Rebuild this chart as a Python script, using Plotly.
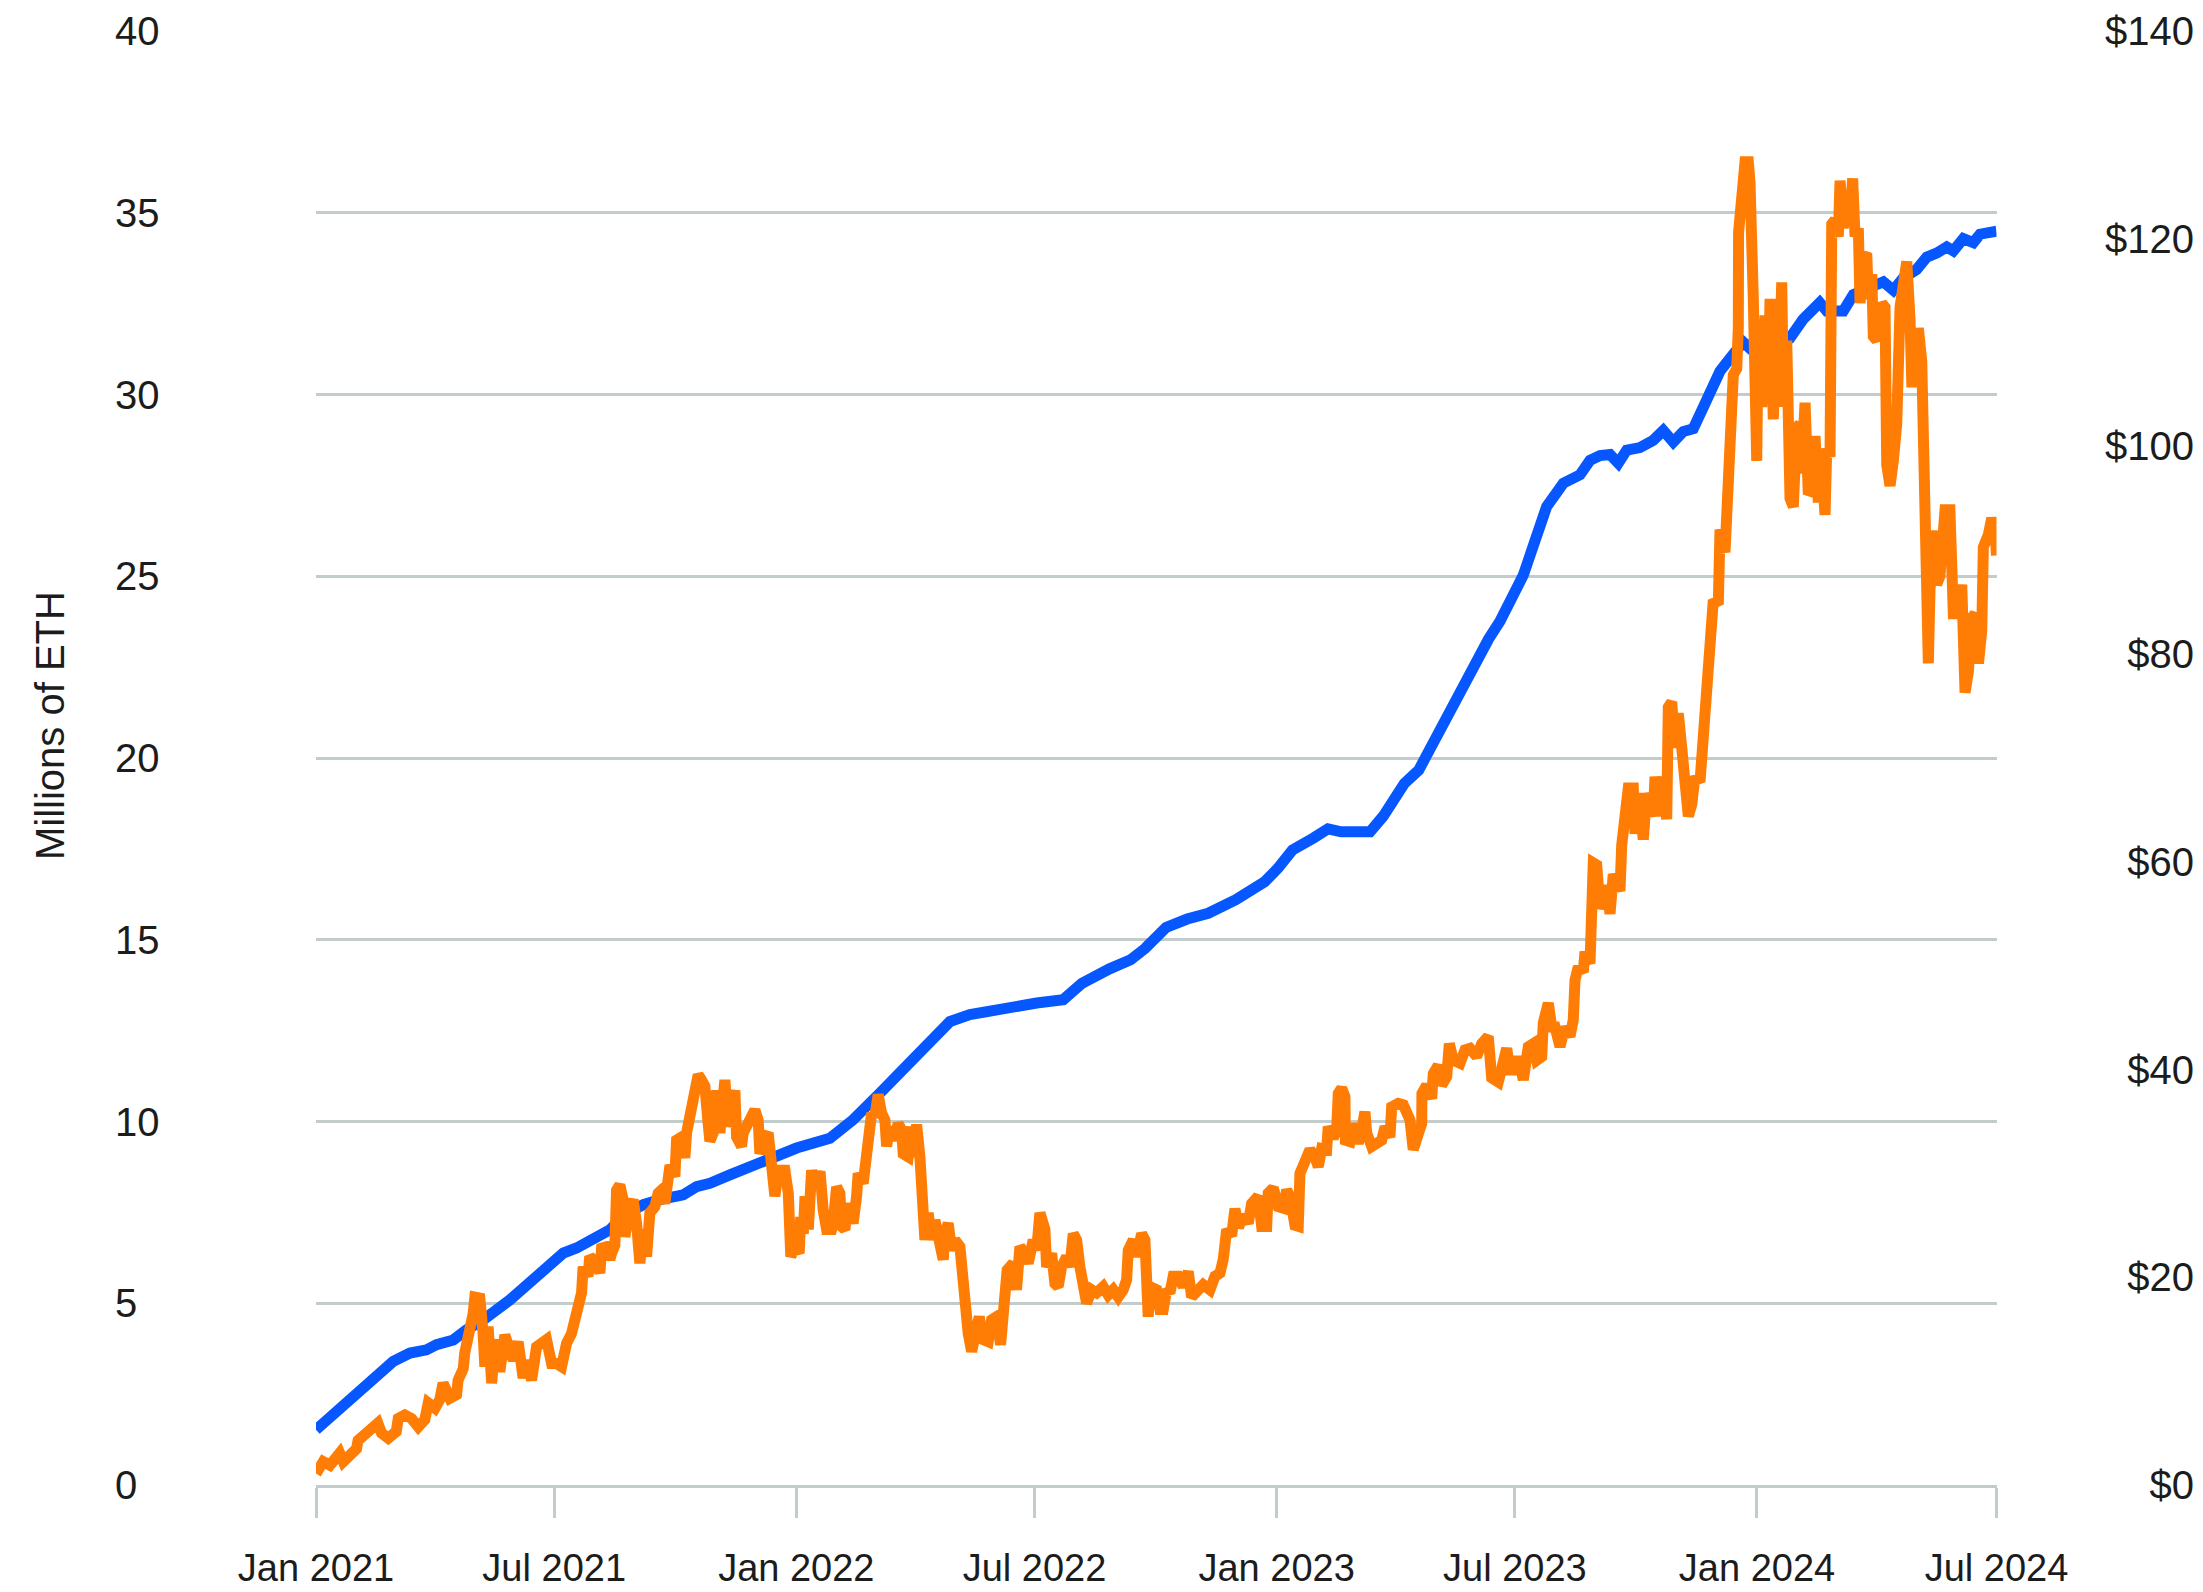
import pandas as pd
import plotly.graph_objects as go

# ---------------- data ----------------
START_DATE = "2021-01-01"
END_DATE = "2024-07-01"

# Staked ETH (millions) -- x given as days since 2021-01-01
ETH_DAYS = [0, 28.3, 58.7, 71.4, 84, 91.6, 104.3, 114.4, 127, 147.3, 172.7, 187.9, 198, 210.7,
            223.3, 236, 248.7, 261.3, 279, 289.2, 299.3, 314.5, 329.7, 344.9, 365.2, 390.5,
            408.2, 428.5, 451.3, 466.5, 481.7, 496.9, 522.2, 547.6, 567.8, 582, 603, 619, 630,
            646, 662, 678, 699, 721, 731, 742, 758, 769, 779, 801, 811, 827, 838, 854, 870, 891,
            899.7, 917.4, 935.2, 947.8, 960.5, 968.1, 975.7, 983.3, 989.6, 996, 1006.1, 1016.2,
            1023.8, 1031.4, 1039, 1046.6, 1056.8, 1066.9, 1077, 1084.6, 1089.7, 1100, 1113,
            1120, 1130, 1142.7, 1148, 1160.6, 1168.2, 1180.9, 1191, 1198.6, 1206.2, 1216.3,
            1224, 1231.5, 1239.2, 1244.2, 1251.8, 1259.4, 1264.5, 1272.1, 1277]
ETH_STAKED_M = [1.52, 2.43, 3.40, 3.63, 3.72, 3.86, 3.99, 4.27, 4.54, 5.09, 5.92, 6.38, 6.52, 6.74,
                7.02, 7.48, 7.71, 7.85, 7.98, 8.21, 8.30, 8.53, 8.76, 8.95, 9.27, 9.54,
                10.05, 10.78, 11.61, 12.16, 12.75, 12.94, 13.12, 13.26, 13.35, 13.8, 14.2, 14.45, 14.76,
                15.34, 15.57, 15.73, 16.1, 16.6, 16.97, 17.47, 17.8, 18.05, 17.97, 17.97, 18.4, 19.3, 19.67, 20.8, 21.9, 23.27,
                23.76, 25.03, 26.92, 27.56, 27.79, 28.19, 28.32, 28.35, 28.11, 28.47, 28.54, 28.74,
                29.01, 28.69, 28.98, 29.06, 29.85, 30.64, 31.11, 31.44, 31.27, 31.35, 31.5,
                31.55, 32.07, 32.53, 32.30, 32.30, 32.75, 32.98, 33.10, 32.87, 33.21, 33.44,
                33.78, 33.89, 34.06, 33.95, 34.29, 34.18, 34.41, 34.46, 34.49]

# Value of staked ETH ($ billions) -- x given as days since 2021-01-01
USD_DAYS = [0, 5.5, 10.6, 18, 20.7, 25.8, 30.8, 32, 38.5, 42, 47, 49.8, 54.9, 61, 62.5, 67.5, 72.6,
            77.7, 82.7, 85.3, 90.4, 94, 96.6, 101.7, 106.8, 108, 111.9, 113, 117, 119.4, 120.7,
            124.5, 127, 128.3, 130.8, 133.5, 136, 139.7, 143.5, 147.3, 149.9, 153.6, 157.4, 160,
            163.8, 167.6, 171.4, 175.2, 179, 182.8, 186.6, 190.4, 194.2, 198, 200.5, 201.8, 203,
            206.8, 208, 213.2, 215.7, 217, 220.8, 223.3, 224.6, 227.1, 228.4, 230.9, 233.5, 234.7,
            238.5, 241, 243.6, 246.1, 248.7, 251.2, 253.7, 257.5, 260, 262.6, 265.1, 267.7, 269,
            272.7, 274, 277.8, 280.3, 281.6, 284.1, 286.6, 289.2, 290.4, 293, 295.5, 298, 299.3,
            301.8, 304.4, 306.9, 309.4, 310.7, 313.3, 315.8, 318.3, 319.6, 323.4, 324.6, 327.2,
            331, 333.5, 336, 337.3, 341.1, 343.6, 348.7, 351.3, 356.3, 358.9, 360.8, 364, 367.2,
            368.3, 370.3, 371.6, 374.1, 376.6, 379.2, 383, 385.4, 388, 391.8, 393, 395.6, 398.1,
            399.4, 401.9, 404.4, 408.2, 410.8, 412, 415.8, 418.4, 420.9, 422.2, 424.7, 427.2,
            429.8, 432.3, 433.6, 436.1, 438.6, 442.4, 445, 446.2, 450, 452.6, 453.8, 456.4, 458.9,
            461.4, 462.7, 465.2, 467.8, 470.3, 472.8, 476.6, 477.9, 480.4, 483, 485.5, 489.3,
            491.8, 493.1, 495.6, 498.2, 500.7, 504, 507, 510.8, 513.4, 517.2, 520.2, 523.5, 525.2,
            529.8, 532.3, 534.9, 538.7, 541.2, 545, 547.6, 550.1, 553.9, 555.2, 559, 561.5, 564,
            566.6, 570.4, 572.9, 575.4, 578, 580.5, 583, 585.6, 589.4, 593.2, 598.2, 602, 605.8,
            609.6, 613.4, 616, 617.2, 621, 623.6, 627.4, 629.9, 631.2, 632.4, 633.7, 638.8, 641.3,
            643.8, 646.4, 648.9, 651.4, 655.2, 659, 662.8, 665.4, 669.2, 674.2, 679.3, 683.1,
            686.9, 689.4, 692, 695.8, 698.3, 701, 704.6, 708.4, 711, 716, 718.6, 722.4, 723.6,
            727.4, 731.2, 735, 737.6, 740.1, 743.9, 746.4, 747.7, 751.5, 755.3, 759.1, 761.6,
            764.2, 768, 769.2, 773, 775.6, 776.8, 779.4, 781.9, 782.2, 785.7, 788.2, 792, 794.6,
            797.1, 798.4, 802.2, 806, 809.8, 812.3, 816.1, 817.4, 822.4, 826.2, 828.8, 831.3,
            833.8, 837.6, 840.2, 840.4, 844, 847.8, 849, 852.8, 855.4, 859.2, 861.2, 864.2, 869.3,
            873.1, 876.9, 882, 885.8, 890.8, 893.4, 898.4, 901, 904.8, 907.3, 911.1, 913.6, 917.4,
            921.2, 925, 927.6, 931.4, 932.6, 936.4, 939, 941.5, 945.3, 949.1, 952.9, 955.4, 956.7,
            959.2, 963, 964.3, 968.1, 969.4, 970.6, 973.2, 975.7, 980.8, 983.3, 985.8, 990.9,
            992.2, 994.7, 997.2, 1001, 1002.3, 1004.8, 1008.6, 1011.2, 1016.2, 1017.5, 1021.3,
            1023.8, 1026.4, 1027.6, 1030.2, 1032.7, 1035.2, 1037.8, 1040.3, 1042.8, 1045.4,
            1047.9, 1051.7, 1054.2, 1056.8, 1059.3, 1061.8, 1065.6, 1066.9, 1070.7, 1073.2,
            1075.8, 1077, 1079.6, 1080.8, 1081, 1083.4, 1085.9, 1088.4, 1089.7, 1092.2, 1094.8,
            1096, 1098.6, 1101.1, 1103.6, 1104.9, 1107.4, 1110, 1111.2, 1113.8, 1115, 1117.6,
            1118.8, 1120.1, 1122.6, 1125.2, 1127.7, 1128.9, 1131.5, 1134, 1136.6, 1139.1, 1141.6,
            1144.2, 1146.7, 1148, 1150.5, 1151.8, 1154.3, 1156.8, 1158.1, 1160.6, 1163.2, 1165.2,
            1167.7, 1169.5, 1172, 1173.3, 1175.8, 1178.4, 1179.6, 1182.2, 1183.4, 1186, 1189.8,
            1192.3, 1193.6, 1196.1, 1198.6, 1201.2, 1203.7, 1206.2, 1208.8, 1211.3, 1212.6,
            1215.1, 1217.6, 1220.2, 1221.4, 1222.7, 1225.2, 1226.5, 1230.3, 1231.5, 1234, 1237.9,
            1241.6, 1244.2, 1248, 1250.6, 1253.1, 1255.6, 1258.2, 1260.7, 1263.3, 1265.8, 1267,
            1270.8, 1273.4, 1275.9, 1277]
USD_VALUE_BN = [1.1, 2.25, 1.9, 3.06, 2.25, 2.9, 3.5, 4.3, 5.0, 5.5, 5.95, 5.0, 4.5, 5.15, 6.4, 6.75, 6.4,
                5.6, 6.3, 7.9, 7.4, 8.2, 9.8, 8.35, 8.7, 10.1, 11.2, 12.7, 14.6, 16.5, 18.1,
                18.0, 14.6, 11.4, 15.25, 9.8, 14.0, 10.9, 14.45, 13.0, 12.0, 13.8, 10.3, 12.0,
                10.1, 13.3, 13.65, 14.0, 11.7, 11.7, 11.4, 13.65, 14.6, 16.5, 17.2, 18.5, 21.0,
                20.1, 22.0, 21.35, 20.4, 22.8, 22.95, 21.7, 22.3, 23.1, 28.4, 28.9, 27.4, 23.9,
                26.8, 27.45, 25.2, 21.35, 24.6, 22.0, 26.2, 26.8, 28.1, 28.4, 27.1, 29.7, 30.8,
                29.7, 33.2, 33.5, 31.5, 33.9, 35.5, 36.4, 38.4, 39.5, 39.0, 38.4, 34.8, 33.1,
                33.9, 38.0, 33.9, 38.4, 39.0, 34.5, 36.1, 38.0, 33.5, 32.6, 33.9, 34.5,
                35.5, 36.1, 35.15, 31.9, 33.5, 33.9, 27.8, 30.3, 30.3, 28.1, 22.0, 22.95, 22.3,
                25.8, 24.2, 27.8, 24.6, 30.3, 28.7, 30.2, 26.5, 24.6, 24.6, 25.2, 28.7, 28.1,
                24.9, 24.6, 27.1, 25.2, 27.8, 30.0, 29.05, 32.3, 33.9, 35.8, 35.5, 37.6,
                35.8, 35.15, 32.6, 34.5, 33.2, 34.8, 34.2, 31.9, 31.6, 34.5, 31.6, 34.7, 31.6,
                28.1, 23.6, 26.2, 23.6, 25.5, 24.2, 21.7, 24.2, 25.2, 22.6, 23.6, 22.95,
                18.8, 15.6, 14.6, 12.85, 14.0, 16.2, 14.0, 13.8, 15.9, 16.2, 13.5, 17.8, 20.7,
                21.35, 18.8, 22.95, 22.3, 21.35, 23.6, 22.6, 26.2, 24.6, 21.0, 22.3, 19.4, 19.1,
                21.0, 22.0, 21.0, 24.2, 23.6, 21.0, 19.75, 17.5, 18.8, 18.5, 19.1, 18.3, 18.8,
                18.1, 18.8, 19.75, 22.6, 23.6, 22.0, 24.2, 23.6, 16.5, 16.2, 19.1, 18.8, 16.9,
                16.9, 18.8, 18.5, 20.1, 20.1, 19.1, 20.55, 18.1, 18.5, 19.3, 18.8, 20.1,
                20.4, 21.7, 24.6, 24.0, 26.6, 24.8, 26.0, 25.2, 27.1, 27.8, 24.9, 24.9, 28.1,
                28.6, 26.8, 26.65, 28.4, 27.8, 25.0, 24.9, 30.0, 31.6, 32.3, 31.6, 30.65,
                32.4, 32.3, 34.5, 33.4, 34.2, 37.7, 38.2, 37.4, 33.2, 33.06, 34.8, 32.9, 34.2,
                35.95, 33.9, 32.6, 32.9, 33.2, 34.5, 33.5, 36.4, 36.75, 36.6, 35.8, 35.15,
                32.3, 33.9, 34.8, 37.7, 38.5, 37.2, 39.6, 40.4, 38.5, 39.3, 42.5, 40.9, 40.6,
                41.9, 42.05, 41.25, 42.5, 43.2, 39.2, 38.8, 39.96, 42.05, 39.96, 39.96, 41.25, 39.0,
                42.2, 42.5, 40.9, 41.25, 44.5, 46.4, 44.1, 44.1, 42.2, 44.1, 43.2, 44.8, 48.6,
                49.9, 49.4, 51.35, 50.2, 53.1, 59.9, 59.7, 55.5, 57.7, 55.0, 58.8, 57.2,
                61.6, 65.5, 67.1, 67.1, 62.7, 66.6, 62.15, 66.6, 64.4, 68.2, 64.4,
                68.2, 64.1, 74.9, 75.4, 71.0, 74.3, 71.0, 66.0, 64.4, 65.5,
                68.2, 67.7, 71.6, 75.0, 79.8, 85.2, 84.8, 92.0, 89.8, 97.5,
                104.2, 106.9, 107.5, 111.4, 120.6, 123.0, 127.4, 127.4, 125.4, 114.2, 98.6,
                112.2, 103.8, 112.6, 105.4, 114.2, 102.6, 114.2, 103.8, 115.8, 105.4, 110.2,
                104.6, 95.0, 94.2, 101.8, 102.2, 97.4, 104.2, 95.4, 95.8, 101.0, 94.6,
                98.2, 93.4, 99.8, 99.0, 121.4, 121.8, 120.2, 125.6, 121.0, 124.6, 121.4,
                125.8, 120.2, 121.0, 113.8, 118.2, 118.6, 114.2, 116.6, 110.6, 110.2, 113.8,
                113.4, 98.2, 96.2, 98.6, 102.2, 113.4, 116.2, 117.8, 112.2, 106.2,
                106.2, 111.4, 108.2, 100.2, 81.9, 79.1, 86.25, 91.9, 86.7, 87.5, 93.9,
                93.9, 83.9, 83.9, 86.7, 76.3, 78.3, 83.5, 83.9, 79.1, 82.3, 90.3,
                91.5, 93.1, 91.9, 89.5]

LEFT_TICKS = [0, 5, 10, 15, 20, 25, 30, 35, 40]
RIGHT_TICKS = [0, 20, 40, 60, 80, 100, 120, 140]
RIGHT_TICK_TEXT = ["$0", "$20", "$40", "$60", "$80", "$100", "$120", "$140"]
X_TICKS = ["2021-01-01", "2021-07-01", "2022-01-01", "2022-07-01", "2023-01-01",
           "2023-07-01", "2024-01-01", "2024-07-01"]
X_TICK_TEXT = ["Jan 2021", "Jul 2021", "Jan 2022", "Jul 2022", "Jan 2023",
               "Jul 2023", "Jan 2024", "Jul 2024"]
Y_TITLE = "Millions of ETH"

# ---------------- figure ----------------
base = pd.Timestamp(START_DATE)
eth_dates = base + pd.to_timedelta(ETH_DAYS, unit="D")
usd_dates = base + pd.to_timedelta(USD_DAYS, unit="D")

BLUE = "#0657ff"
ORANGE = "#ff7d05"
GRID = "#c2cdcb"
TEXT = "#1c1c1c"
FONT = "Liberation Sans, Arial, sans-serif"

W, H = 2203, 1592
PLOT_L, PLOT_R = 316, 1996.5
PLOT_T, PLOT_B = 31, 1485
MT, MB = PLOT_T, H - PLOT_B

fig = go.Figure()
fig.add_trace(go.Scatter(x=eth_dates, y=ETH_STAKED_M, mode="lines", yaxis="y",
                         line=dict(color=BLUE, width=11), showlegend=False,
                         name="Staked ETH (millions)"))
fig.add_trace(go.Scatter(x=usd_dates, y=USD_VALUE_BN, mode="lines", yaxis="y2",
                         line=dict(color=ORANGE, width=11), showlegend=False,
                         name="Value of staked ETH ($bn)"))

fig.update_layout(
    width=W, height=H,
    margin=dict(l=0, r=0, t=MT, b=MB, pad=0),
    paper_bgcolor="white", plot_bgcolor="white",
    font=dict(family=FONT, size=38, color=TEXT),
    xaxis=dict(
        domain=[PLOT_L / W, PLOT_R / W],
        range=[START_DATE, END_DATE],
        tickvals=X_TICKS, ticktext=X_TICK_TEXT,
        showgrid=False, zeroline=False,
        showline=True, linecolor=GRID, linewidth=2.5,
        ticks="outside", ticklen=30, tickwidth=2.5, tickcolor=GRID,
        ticklabelstandoff=18,
        tickfont=dict(size=38, color=TEXT),
        anchor="y", automargin=False,
    ),
    yaxis=dict(
        range=[0, 40], tickvals=LEFT_TICKS,
        showgrid=True, gridcolor=GRID, gridwidth=2.5,
        zeroline=False, showline=False, ticks="",
        anchor="free", position=114 / W, side="right",
        tickfont=dict(size=40, color=TEXT),
        automargin=False,
    ),
    yaxis2=dict(
        range=[0, 140], tickvals=RIGHT_TICKS, ticktext=RIGHT_TICK_TEXT,
        overlaying="y", showgrid=False, zeroline=False, showline=False, ticks="",
        anchor="free", position=2194 / W, side="left",
        tickfont=dict(size=40, color=TEXT),
        automargin=False,
    ),
    annotations=[dict(
        text=Y_TITLE, textangle=-90, showarrow=False,
        xref="paper", yref="paper",
        x=50 / W, y=(PLOT_B - 726) / (PLOT_B - PLOT_T),
        xanchor="center", yanchor="middle",
        font=dict(size=40, color=TEXT, family=FONT),
    )],
)

# remove the browser's default 8px body margin so the figure fills the window exactly
fig.write_html("out.html",
               config={"displayModeBar": False},
               post_script="document.body.style.margin='0px';"
                           "document.body.style.overflow='hidden';")
